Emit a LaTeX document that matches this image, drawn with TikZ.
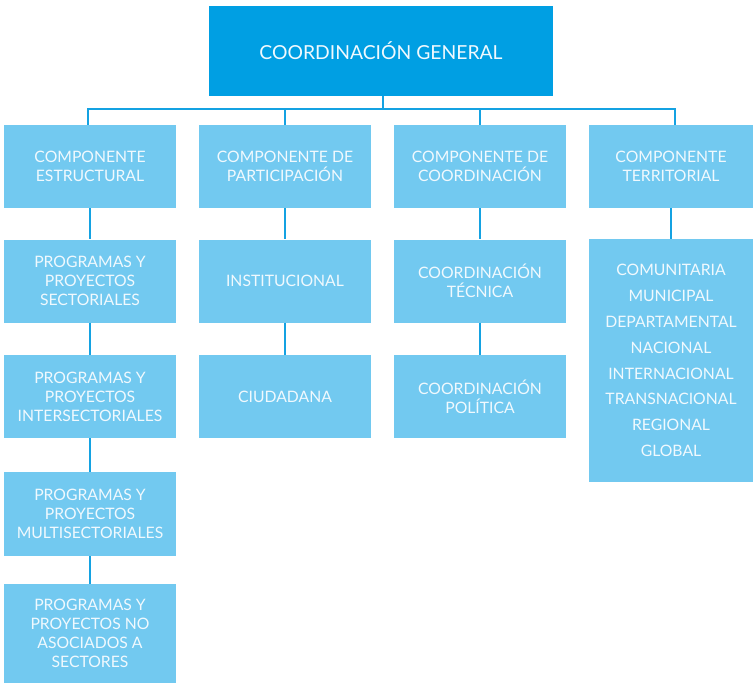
\documentclass[tikz,border=0pt]{standalone}
\usepackage{fontspec}
\setmainfont{Lato}
\definecolor{topblue}{HTML}{009FE3}
\definecolor{boxblue}{HTML}{72C9F0}
\definecolor{lineblue}{HTML}{14A2E2}
\definecolor{txt}{HTML}{F0F9FE}
\begin{document}
\begin{tikzpicture}[x=1bp,y=-1bp,
  box/.style={fill=boxblue,draw=none,minimum width=172bp,minimum height=83bp,inner sep=2bp,
    text=txt,align=center,font=\fontsize{15.8}{19}\selectfont},
  topbox/.style={fill=topblue,draw=none,minimum width=344bp,minimum height=90bp,
    text=txt,align=center,font=\fontsize{19.4}{23}\selectfont},
  conn/.style={draw=lineblue,line width=2.4bp}]
\useasboundingbox (0,0) rectangle (753,683);
\node[topbox] (top) at (381,51) {COORDINACIÓN GENERAL};
\node[box] (c1) at (90,166.5) {COMPONENTE\\ESTRUCTURAL};
\node[box] (c2) at (285,166.5) {COMPONENTE DE\\PARTICIPACIÓN};
\node[box] (c3) at (480,166.5) {COMPONENTE DE\\COORDINACIÓN};
\node[box,minimum width=164bp] (c4) at (671,166.5) {COMPONENTE\\TERRITORIAL};
\node[box] (p1) at (90,281) {PROGRAMAS Y\\PROYECTOS\\SECTORIALES};
\node[box] (p2) at (90,396.5) {PROGRAMAS Y\\PROYECTOS\\INTERSECTORIALES};
\node[box,minimum height=84bp] (p3) at (90,514) {PROGRAMAS Y\\PROYECTOS\\MULTISECTORIALES};
\node[box,minimum height=99bp] (p4) at (90,633.5) {PROGRAMAS Y\\PROYECTOS NO\\ASOCIADOS A\\SECTORES};
\node[box] (i1) at (285,281) {INSTITUCIONAL};
\node[box] (i2) at (285,396.5) {CIUDADANA};
\node[box] (t1) at (480,281) {COORDINACIÓN\\TÉCNICA};
\node[box] (t2) at (480,396.5) {COORDINACIÓN\\POLÍTICA};
\node[box,minimum width=164bp,minimum height=243bp,font=\fontsize{15.8}{26}\selectfont] (g) at (671,360.5)
  {COMUNITARIA\\MUNICIPAL\\DEPARTAMENTAL\\NACIONAL\\INTERNACIONAL\\TRANSNACIONAL\\REGIONAL\\GLOBAL};
\coordinate (bus) at (383,109);
\coordinate (d1) at (88,109);
\coordinate (d4) at (675,109);
\draw[conn] (top.south -| bus) -- (bus);
\draw[conn] (d1 |- c1.north) -- (d1) -- (d4) -- (d4 |- c4.north);
\draw[conn] (c2.north) -- (c2.north |- bus);
\draw[conn] (c3.north) -- (c3.north |- bus);
\draw[conn] (c1) -- (p1);
\draw[conn] (p1) -- (p2);
\draw[conn] (p2) -- (p3);
\draw[conn] (p3) -- (p4);
\draw[conn] (c2) -- (i1);
\draw[conn] (i1) -- (i2);
\draw[conn] (c3) -- (t1);
\draw[conn] (t1) -- (t2);
\draw[conn] (c4) -- (g);
\end{tikzpicture}
\end{document}
